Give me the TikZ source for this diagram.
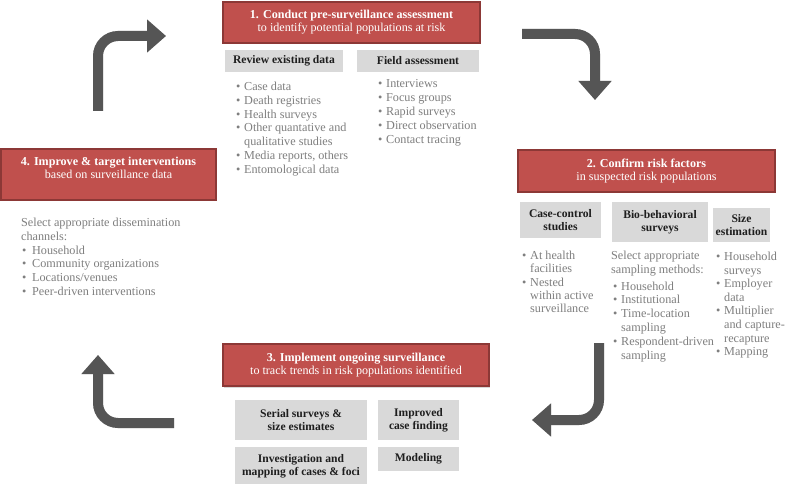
\documentclass[tikz,border=0pt]{standalone}
\usepackage{fontspec}
\setmainfont{Liberation Serif}
\usetikzlibrary{shadows,arrows.meta}
\definecolor{redfill}{HTML}{C0504D}
\definecolor{redline}{HTML}{8C3836}
\definecolor{grayfill}{HTML}{D9D9D9}
\definecolor{listgray}{HTML}{7F7F7F}
\definecolor{headdark}{HTML}{1E1E1E}
\definecolor{arrowgray}{HTML}{555555}
\newcommand{\bu}{\makebox[8pt][l]{\textbullet}}
\newcommand{\ind}{\hspace*{8pt}}
\tikzset{
  redbox/.style={draw=redline, line width=1.2pt, fill=redfill, text=white, align=center, inner sep=0pt,
    font=\fontsize{12.1}{13.2}\selectfont,
    drop shadow={opacity=0.3, shadow xshift=1pt, shadow yshift=-1.5pt}},
  graybox/.style={fill=grayfill, text=headdark, align=center, inner sep=0pt,
    font=\bfseries\fontsize{11.6}{13}\selectfont},
  listtext/.style={anchor=base west, inner sep=0pt, align=left, text=listgray,
    font=\fontsize{12.2}{13.8}\selectfont},
  bigarrow/.style={draw=arrowgray, line width=10pt, rounded corners=20pt,
    -{Triangle[width=32pt,length=19pt]}},
  arrowshade/.style={draw=black!35, opacity=0.35, line width=10pt, rounded corners=20pt,
    -{Triangle[width=32pt,length=19pt]}},
}
\begin{document}
\begin{tikzpicture}[x=1pt,y=-1pt]
\useasboundingbox[fill=white] (0,0) rectangle (785,484);

% ---------- arrows ----------
\coordinate (a1s) at (98,111);  \coordinate (a1c) at (98,36);  \coordinate (a1e) at (166,36);
\coordinate (a2s) at (522,34);  \coordinate (a2c) at (595,34); \coordinate (a2e) at (595,100);
\coordinate (a3s) at (599,343); \coordinate (a3c) at (599,420); \coordinate (a3e) at (532,420);
\coordinate (a4s) at (174,423); \coordinate (a4c) at (98,423); \coordinate (a4e) at (98,355);
\begin{scope}[xshift=1.5pt,yshift=-2pt]
  \draw[arrowshade] (a1s) -- (a1c) -- (a1e);
  \draw[arrowshade] (a2s) -- (a2c) -- (a2e);
  \draw[arrowshade] (a3s) -- (a3c) -- (a3e);
  \draw[arrowshade] (a4s) -- (a4c) -- (a4e);
\end{scope}
\draw[bigarrow] (a1s) -- (a1c) -- (a1e);
\draw[bigarrow] (a2s) -- (a2c) -- (a2e);
\draw[bigarrow] (a3s) -- (a3c) -- (a3e);
\draw[bigarrow] (a4s) -- (a4c) -- (a4e);

% ---------- step 1 ----------
\node[redbox, minimum width=257pt, minimum height=41pt] (s1) at (351.5,22.5)
  {\textbf{1. Conduct pre-surveillance assessment}\\to identify potential populations at risk};
\node[graybox, minimum width=118pt, minimum height=22pt] (g1) at (284,61) {Review existing data};
\node[graybox, minimum width=122pt, minimum height=22pt] (g2) at (418,61) {Field assessment};
\node[listtext] (l1) at (236,173.3) {\bu Case data\\\bu Death registries\\\bu Health surveys\\\bu Other quantative and\\\ind qualitative studies\\\bu Media reports, others\\\bu Entomological data};
\node[listtext, font=\fontsize{12.2}{14}\selectfont] (l2) at (378,143.5) {\bu Interviews\\\bu Focus groups\\\bu Rapid surveys\\\bu Direct observation\\\bu Contact tracing};

% ---------- step 2 ----------
\node[redbox, minimum width=257pt, minimum height=42pt] (s2) at (646.5,171)
  {\textbf{2. Confirm risk factors}\\in suspected risk populations};
\node[graybox, minimum width=81pt, minimum height=36pt] (g3) at (560.5,220) {Case-control\\studies};
\node[graybox, minimum width=96pt, minimum height=40pt] (g4) at (660,222) {Bio-behavioral\\surveys};
\node[graybox, minimum width=57pt, minimum height=34pt] (g5) at (741.5,225) {Size\\estimation};
\node[listtext, font=\fontsize{12.2}{13.3}\selectfont] (l3) at (522,312.7) {\bu At health\\\ind facilities\\\bu Nested\\\ind within active\\\ind surveillance};
\node[listtext] (l4) at (611,359.1) {Select appropriate\\sampling methods:\\[3pt]\hspace*{2pt}\bu Household\\\hspace*{2pt}\bu Institutional\\\hspace*{2pt}\bu Time-location\\\hspace*{2pt}\ind sampling\\\hspace*{2pt}\bu Respondent-driven\\\hspace*{2pt}\ind sampling};
\node[listtext, font=\fontsize{12.2}{13.6}\selectfont] (l5) at (716,355.7) {\bu Household\\\ind surveys\\\bu Employer\\\ind data\\\bu Multiplier\\\ind and capture-\\\ind recapture\\\bu Mapping};

% ---------- step 3 ----------
\node[redbox, minimum width=266pt, minimum height=42pt] (s3) at (356,365)
  {\textbf{3. Implement ongoing surveillance}\\to track trends in risk populations identified};
\node[graybox, minimum width=132pt, minimum height=40pt] (g6) at (301,420) {Serial surveys \&\\size estimates};
\node[graybox, minimum width=81pt, minimum height=40pt] (g7) at (418.5,420) {Improved\\case finding};
\node[graybox, minimum width=132pt, minimum height=38pt] (g8) at (301,466) {Investigation and\\mapping of cases \& foci};
\node[graybox, minimum width=81pt, minimum height=24pt] (g9) at (418.5,459) {Modeling};

% ---------- step 4 ----------
\node[redbox, minimum width=215pt, minimum height=51pt, text depth=13.5pt] (s4) at (108.5,174.5)
  {\textbf{4. Improve \& target interventions}\\based on surveillance data};
\node[listtext] (l6) at (21,295.5) {Select appropriate dissemination\\channels:\\\hspace*{1pt}\makebox[10pt][l]{\textbullet}Household\\\hspace*{1pt}\makebox[10pt][l]{\textbullet}Community organizations\\\hspace*{1pt}\makebox[10pt][l]{\textbullet}Locations/venues\\\hspace*{1pt}\makebox[10pt][l]{\textbullet}Peer-driven interventions};
\end{tikzpicture}
\end{document}
